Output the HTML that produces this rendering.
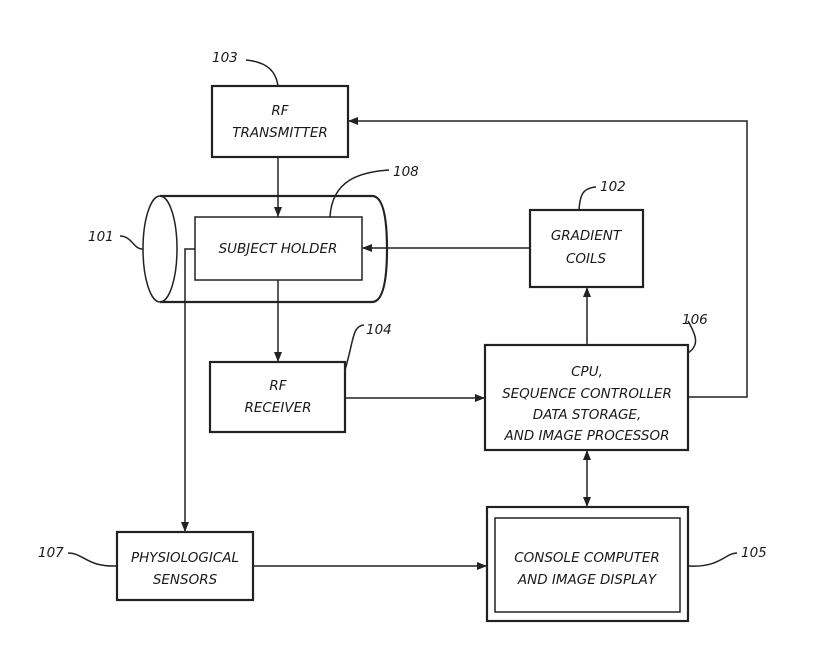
<!DOCTYPE html>
<html><head><meta charset="utf-8"><style>
body{margin:0;background:#fff}
text{font-family:"DejaVu Sans","Liberation Sans",sans-serif;font-style:italic;font-size:13.5px;fill:#1a1a1a}
</style></head><body>
<svg width="827" height="663" viewBox="0 0 827 663" xmlns="http://www.w3.org/2000/svg">
<defs><marker id="a" markerWidth="10" markerHeight="8" refX="10" refY="4" orient="auto" markerUnits="userSpaceOnUse"><path d="M0,0 L10,4 L0,8 Z" fill="#222"/></marker>
<marker id="b" markerWidth="10" markerHeight="8" refX="0" refY="4" orient="auto" markerUnits="userSpaceOnUse"><path d="M10,0 L0,4 L10,8 Z" fill="#222"/></marker></defs>
<g stroke="#222" fill="none" stroke-width="1.5">
<path d="M160,196 L372,196 Q387,196 387,249 Q387,302 372,302 L160,302" stroke-width="2.2"/>
<ellipse cx="160" cy="249" rx="17" ry="53"/>
<rect x="212" y="86" width="136" height="71" stroke-width="2.2"/>
<rect x="195" y="217" width="167" height="63"/>
<rect x="530" y="210" width="113" height="77" stroke-width="2.2"/>
<rect x="210" y="362" width="135" height="70" stroke-width="2.2"/>
<rect x="485" y="345" width="203" height="105" stroke-width="2.2"/>
<rect x="117" y="532" width="136" height="68" stroke-width="2.2"/>
<rect x="487" y="507" width="201" height="114" stroke-width="2.2"/>
<rect x="495" y="518" width="185" height="94"/>
<line x1="278" y1="157" x2="278" y2="217" marker-end="url(#a)"/>
<line x1="530" y1="248" x2="362" y2="248" marker-end="url(#a)"/>
<line x1="278" y1="280" x2="278" y2="362" marker-end="url(#a)"/>
<path d="M195,249 L185,249 L185,532" marker-end="url(#a)"/>
<line x1="345" y1="398" x2="485" y2="398" marker-end="url(#a)"/>
<line x1="587" y1="345" x2="587" y2="287" marker-end="url(#a)"/>
<path d="M688,397 L747,397 L747,121 L348,121" marker-end="url(#a)"/>
<line x1="587" y1="450" x2="587" y2="507" marker-start="url(#b)" marker-end="url(#a)"/>
<line x1="253" y1="566" x2="487" y2="566" marker-end="url(#a)"/>
<path d="M246,60 C268,62 276,72 278,86"/>
<path d="M389,170 C360,172 332,180 330,217"/>
<path d="M120,236 C132,236 134,250 143,249"/>
<path d="M596,187 C582,188 580,196 579,210"/>
<path d="M364,325 C352,326 354,340 345,370"/>
<path d="M688,321 C696,335 700,345 688,353"/>
<path d="M68,553 C84,553 86,567 117,566"/>
<path d="M737,553 C725,553 720,568 688,566"/>
</g>
<text x="212" y="62">103</text>
<text x="393" y="176">108</text>
<text x="88" y="241">101</text>
<text x="600" y="191">102</text>
<text x="366" y="334">104</text>
<text x="682" y="324">106</text>
<text x="38" y="557">107</text>
<text x="741" y="557">105</text>
<g text-anchor="middle">
<text x="280" y="115">RF</text><text x="280" y="137">TRANSMITTER</text>
<text x="278" y="253">SUBJECT HOLDER</text>
<text x="586" y="240">GRADIENT</text><text x="586" y="263">COILS</text>
<text x="278" y="390">RF</text><text x="278" y="412">RECEIVER</text>
<text x="587" y="376">CPU,</text><text x="587" y="398">SEQUENCE CONTROLLER</text><text x="587" y="419">DATA STORAGE,</text><text x="587" y="440">AND IMAGE PROCESSOR</text>
<text x="185" y="562">PHYSIOLOGICAL</text><text x="185" y="584">SENSORS</text>
<text x="587" y="562">CONSOLE COMPUTER</text><text x="587" y="584">AND IMAGE DISPLAY</text>
</g>
</svg>
</body></html>
